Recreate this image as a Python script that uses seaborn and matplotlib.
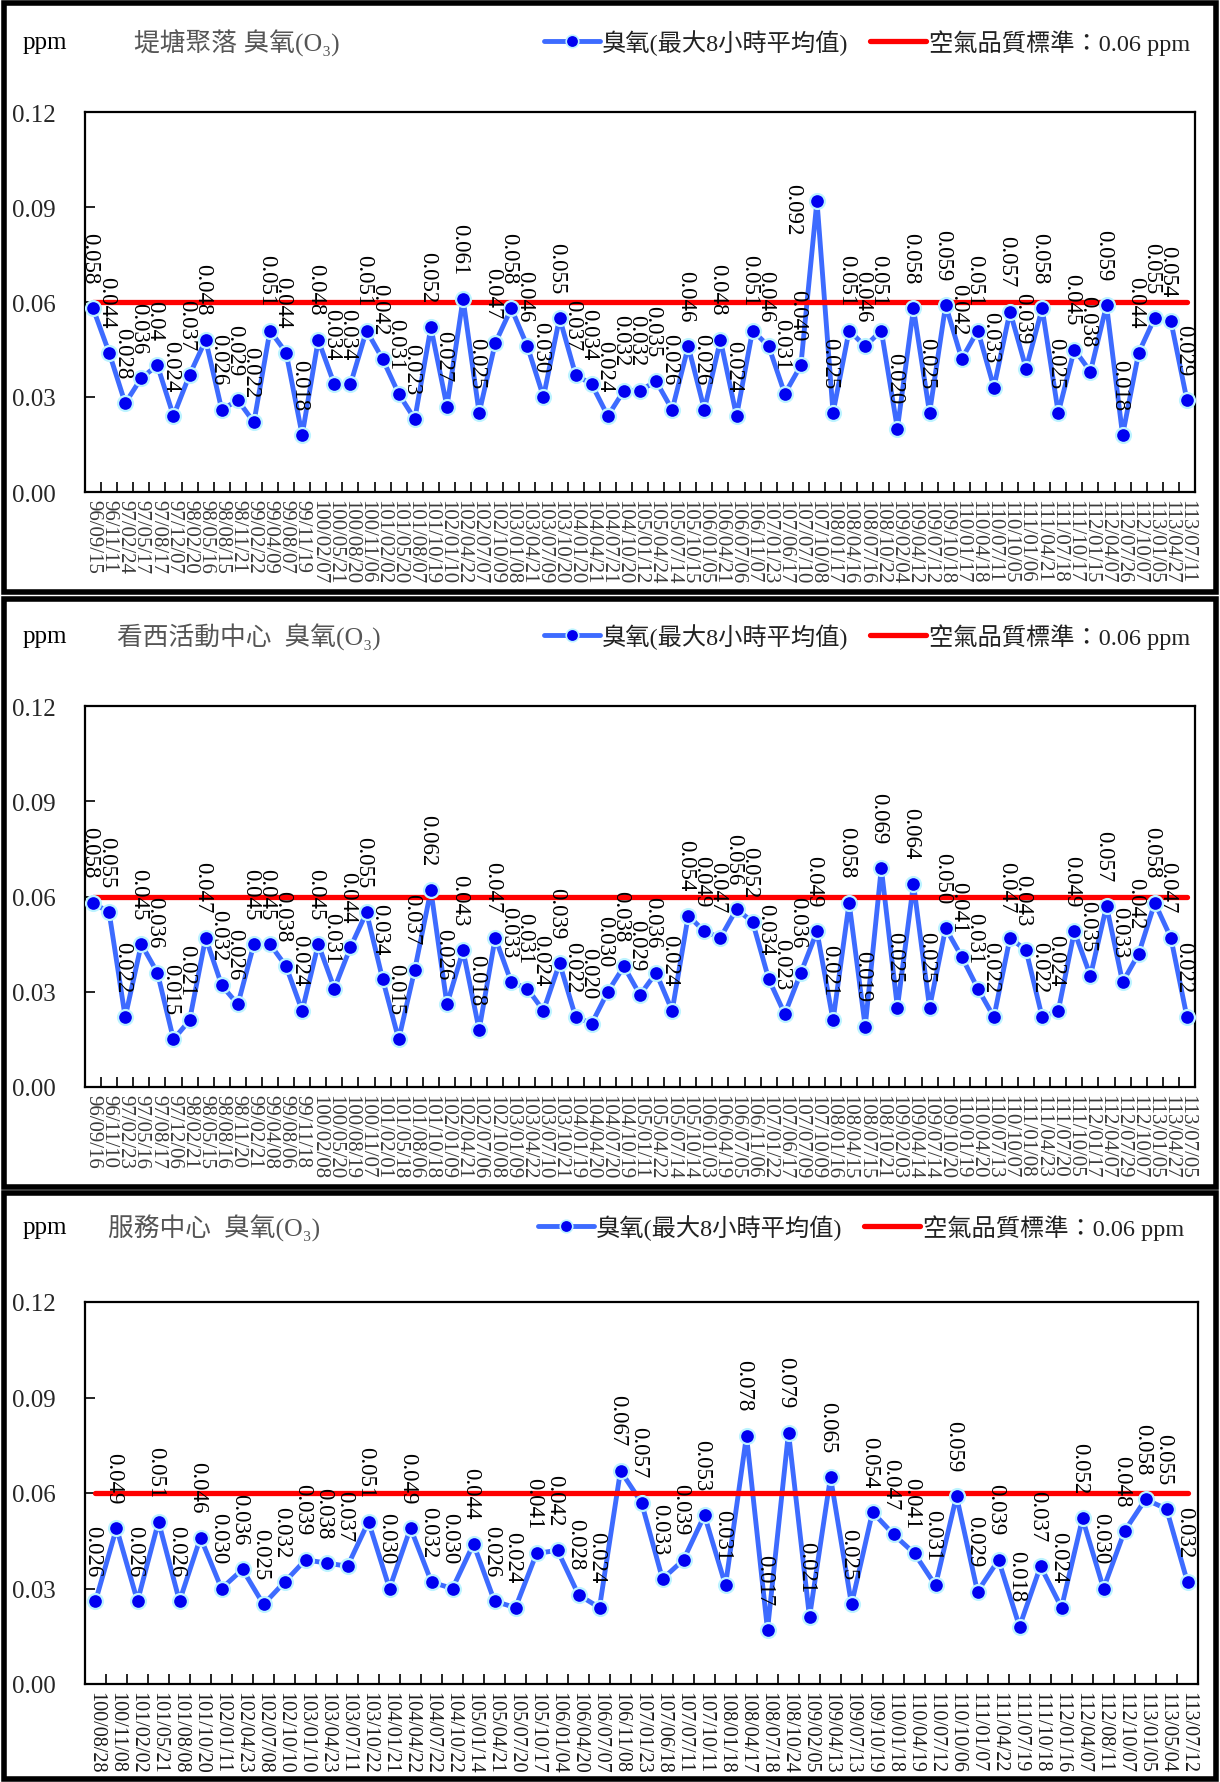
import numpy as np
import pandas as pd
import matplotlib
matplotlib.use("Agg")
import matplotlib.pyplot as plt
import seaborn as sns
from matplotlib.lines import Line2D
from matplotlib.patches import Rectangle
from matplotlib.font_manager import FontProperties

# ---------------- data ----------------
p1_title = "堤塘聚落 臭氧(O₃)"
p1_dates = ["96/09/15", "96/11/11", "97/02/24", "97/05/17", "97/08/17", "97/12/07", "98/02/20",
            "98/05/16", "98/08/15", "98/11/21", "99/02/22", "99/04/09", "99/08/07", "99/11/19",
            "100/02/07", "100/05/21", "100/08/20", "100/11/06", "101/02/02", "101/05/20",
            "101/08/07", "101/10/19", "102/01/10", "102/04/22", "102/07/07", "102/10/09",
            "103/01/08", "103/04/21", "103/07/09", "103/10/20", "104/01/20", "104/04/21",
            "104/07/21", "104/10/20", "105/01/12", "105/04/24", "105/07/14", "105/10/15",
            "106/01/05", "106/04/21", "106/07/06", "106/11/07", "107/01/23", "107/06/17",
            "107/07/10", "107/10/08", "108/01/17", "108/04/16", "108/07/16", "108/10/22",
            "109/02/04", "109/04/12", "109/07/12", "109/10/18", "110/01/17", "110/04/18",
            "110/07/11", "110/10/05", "111/01/06", "111/04/21", "111/07/18", "111/10/17",
            "112/01/15", "112/04/07", "112/07/26", "112/10/07", "113/01/05", "113/04/27",
            "113/07/11"]
p1_readings = ["0.058", "0.044", "0.028", "0.036", "0.04", "0.024", "0.037", "0.048", "0.026",
               "0.029", "0.022", "0.051", "0.044", "0.018", "0.048", "0.034", "0.034", "0.051",
               "0.042", "0.031", "0.023", "0.052", "0.027", "0.061", "0.025", "0.047", "0.058",
               "0.046", "0.030", "0.055", "0.037", "0.034", "0.024", "0.032", "0.032", "0.035",
               "0.026", "0.046", "0.026", "0.048", "0.024", "0.051", "0.046", "0.031", "0.040",
               "0.092", "0.025", "0.051", "0.046", "0.051", "0.020", "0.058", "0.025", "0.059",
               "0.042", "0.051", "0.033", "0.057", "0.039", "0.058", "0.025", "0.045", "0.038",
               "0.059", "0.018", "0.044", "0.055", "0.054", "0.029"]

p2_title = "看西活動中心  臭氧(O₃)"
p2_dates = ["96/09/16", "96/11/10", "97/02/23", "97/05/16", "97/08/17", "97/12/06", "98/02/21",
            "98/05/15", "98/08/16", "98/11/20", "99/02/21", "99/04/08", "99/08/06", "99/11/18",
            "100/02/08", "100/05/20", "100/08/19", "100/11/07", "101/02/01", "101/05/18",
            "101/08/06", "101/10/18", "102/01/09", "102/04/21", "102/07/06", "102/10/08",
            "103/01/09", "103/04/22", "103/07/10", "103/10/21", "104/01/19", "104/04/20",
            "104/07/20", "104/10/19", "105/01/11", "105/04/22", "105/07/14", "105/10/14",
            "106/01/03", "106/04/19", "106/07/05", "106/11/06", "107/01/22", "107/06/17",
            "107/07/09", "107/10/09", "108/01/16", "108/04/15", "108/07/15", "108/10/21",
            "109/02/03", "109/04/14", "109/07/14", "109/10/20", "110/01/19", "110/04/20",
            "110/07/13", "110/10/07", "111/01/08", "111/04/23", "111/07/20", "111/10/05",
            "112/01/17", "112/04/07", "112/07/29", "112/10/07", "113/01/05", "113/04/27",
            "113/07/05"]
p2_readings = ["0.058", "0.055", "0.022", "0.045", "0.036", "0.015", "0.021", "0.047", "0.032",
               "0.026", "0.045", "0.045", "0.038", "0.024", "0.045", "0.031", "0.044", "0.055",
               "0.034", "0.015", "0.037", "0.062", "0.026", "0.043", "0.018", "0.047", "0.033",
               "0.031", "0.024", "0.039", "0.022", "0.020", "0.030", "0.038", "0.029", "0.036",
               "0.024", "0.054", "0.049", "0.047", "0.056", "0.052", "0.034", "0.023", "0.036",
               "0.049", "0.021", "0.058", "0.019", "0.069", "0.025", "0.064", "0.025", "0.050",
               "0.041", "0.031", "0.022", "0.047", "0.043", "0.022", "0.024", "0.049", "0.035",
               "0.057", "0.033", "0.042", "0.058", "0.047", "0.022"]

p3_title = "服務中心  臭氧(O₃)"
p3_dates = ["100/08/28", "100/11/08", "101/02/02", "101/05/21", "101/08/08", "101/10/20",
            "102/01/11", "102/04/23", "102/07/08", "102/10/10", "103/01/10", "103/04/23",
            "103/07/11", "103/10/22", "104/01/21", "104/04/22", "104/07/22", "104/10/22",
            "105/01/14", "105/04/21", "105/07/20", "105/10/17", "106/01/04", "106/04/20",
            "106/07/07", "106/11/08", "107/01/23", "107/06/18", "107/07/11", "107/10/11",
            "108/01/18", "108/04/17", "108/07/18", "108/10/24", "109/02/05", "109/04/13",
            "109/07/13", "109/10/19", "110/01/18", "110/04/19", "110/07/12", "110/10/06",
            "111/01/07", "111/04/22", "111/07/19", "111/10/18", "112/01/16", "112/04/07",
            "112/08/11", "112/10/07", "113/01/05", "113/05/04", "113/07/12"]
p3_readings = ["0.026", "0.049", "0.026", "0.051", "0.026", "0.046", "0.030", "0.036", "0.025",
               "0.032", "0.039", "0.038", "0.037", "0.051", "0.030", "0.049", "0.032", "0.030",
               "0.044", "0.026", "0.024", "0.041", "0.042", "0.028", "0.024", "0.067", "0.057",
               "0.033", "0.039", "0.053", "0.031", "0.078", "0.017", "0.079", "0.021", "0.065",
               "0.025", "0.054", "0.047", "0.041", "0.031", "0.059", "0.029", "0.039", "0.018",
               "0.037", "0.024", "0.052", "0.030", "0.048", "0.058", "0.055", "0.032"]

standard = 0.06
y_ticks = [0.00, 0.03, 0.06, 0.09, 0.12]
unit_label = "ppm"
series_label = "臭氧(最大8小時平均值)"
standard_label = "空氣品質標準：0.06 ppm"

# ---------------- style ----------------
sns.set_style("white")
SERIF = "Liberation Serif"
CJK = "Noto Sans CJK TC"
FAM = [SERIF, CJK, "DejaVu Sans"]
plt.rcParams["font.family"] = FAM

LINE_C = "#3D6BFF"
MARK_C = "#0000F0"
GLOW_C = "#BDF3FF"
RED_C = "#FF0000"

W, H = 1220, 1783
fig = plt.figure(figsize=(W / 100, H / 100), dpi=100)
fig.patch.set_facecolor("white")


def fx(px):
    return px / W


def fy(py):
    return 1 - py / H


panels = [
    dict(title=p1_title, dates=p1_dates, readings=p1_readings,
         box=(4, 4, 1216, 593), ax=(85, 113, 1195, 493), head_y=43, title_x=134,
         leg_right=1190, tick_fs=15, tick_c="#3a3a3a"),
    dict(title=p2_title, dates=p2_dates, readings=p2_readings,
         box=(4, 600, 1216, 1188), ax=(85, 707, 1195, 1088), head_y=637, title_x=117,
         leg_right=1190, tick_fs=15, tick_c="#3a3a3a"),
    dict(title=p3_title, dates=p3_dates, readings=p3_readings,
         box=(4, 1194, 1216, 1780), ax=(85, 1303, 1198, 1685), head_y=1228, title_x=108,
         leg_right=1184, tick_fs=14.5, tick_c="#1a1a1a"),
]

for p in panels:
    l, t, r, b = p["ax"]
    ax = fig.add_axes([fx(l), fy(b), (r - l) / W, (b - t) / H])
    n = len(p["dates"])
    df = pd.DataFrame({"pos": np.arange(n), "date": p["dates"],
                       "label": p["readings"],
                       "o3": [float(s) for s in p["readings"]]})

    sns.lineplot(data=df, x="pos", y="o3", ax=ax, color=LINE_C, linewidth=3.5,
                 errorbar=None, zorder=2, legend=False)
    std_df = pd.DataFrame({"pos": [df["pos"].iloc[0], df["pos"].iloc[-1]],
                           "std": [standard, standard]})
    sns.lineplot(data=std_df, x="pos", y="std", ax=ax, color=RED_C, linewidth=3.8,
                 errorbar=None, zorder=3, legend=False)
    sns.scatterplot(data=df, x="pos", y="o3", ax=ax, color=MARK_C, s=115,
                    edgecolor=GLOW_C, linewidth=1.6, zorder=4, legend=False)

    for xv, yv, txt in zip(df["pos"], df["o3"], df["label"]):
        if yv > 0.085:
            # label sits to the left of the peak point
            ax.annotate(txt, (xv, yv), xytext=(-24, -8), textcoords="offset pixels",
                        rotation=270, ha="center", va="center", fontsize=16.5,
                        family=FAM, color="black", zorder=5)
        else:
            ax.annotate(txt, (xv, yv), xytext=(-3, 25), textcoords="offset pixels",
                        rotation=270, ha="center", va="bottom", fontsize=16.5,
                        family=FAM, color="black", zorder=5)

    ax.set_xlim(-0.5, n - 0.5)
    ax.set_ylim(0, 0.12)
    ax.set_xticks(df["pos"])
    ax.set_xticklabels(df["date"], rotation=270, fontsize=p["tick_fs"],
                       color=p["tick_c"], family=FAM)
    ax.set_xticks(np.arange(0.5, n - 1), minor=True)
    ax.tick_params(axis="x", which="major", length=0, pad=5)
    ax.tick_params(axis="x", which="minor", direction="in", length=7, width=1.2,
                   bottom=True, color="black")
    ax.set_yticks(y_ticks)
    ax.set_yticklabels([f"{v:.2f}" for v in y_ticks])
    ax.tick_params(axis="y", direction="in", length=7, width=1.2, pad=21,
                   labelsize=18, left=True, color="black")
    for lab in ax.get_yticklabels():
        lab.set_family(FAM)
    ax.set_xlabel("")
    ax.set_ylabel("")
    for sp in ax.spines.values():
        sp.set_color("black")
        sp.set_linewidth(1.6)
        sp.set_visible(True)

    # header texts
    fig.text(fx(23), fy(p["head_y"]), unit_label, fontsize=18, ha="left",
             va="center", family=FAM, color="black")
    fig.text(fx(p["title_x"]), fy(p["head_y"]), p["title"], fontsize=18.5,
             ha="left", va="center", family=FAM, color="#555555")

    h_series = Line2D([], [], color=LINE_C, linewidth=3.5, marker="o",
                      markersize=9, markerfacecolor=MARK_C,
                      markeredgecolor=GLOW_C, markeredgewidth=1.2)
    h_std = Line2D([], [], color=RED_C, linewidth=3.8)
    ax.legend(handles=[h_series, h_std], labels=[series_label, standard_label],
              loc="center right", bbox_to_anchor=(fx(p["leg_right"]), fy(p["head_y"])),
              bbox_transform=fig.transFigure, ncol=2, frameon=False,
              prop=FontProperties(family=FAM, size=17.5), handlelength=2.3,
              handletextpad=0.1, columnspacing=0.9, borderpad=0, borderaxespad=0,
              labelcolor="#222222")

    # panel frame
    bl, bt, br, bb = p["box"]
    fig.add_artist(Rectangle((fx(bl), fy(bb)), (br - bl) / W, (bb - bt) / H,
                             transform=fig.transFigure, fill=False,
                             edgecolor="black", linewidth=4))

fig.savefig("out.png", dpi=100, facecolor="white")
